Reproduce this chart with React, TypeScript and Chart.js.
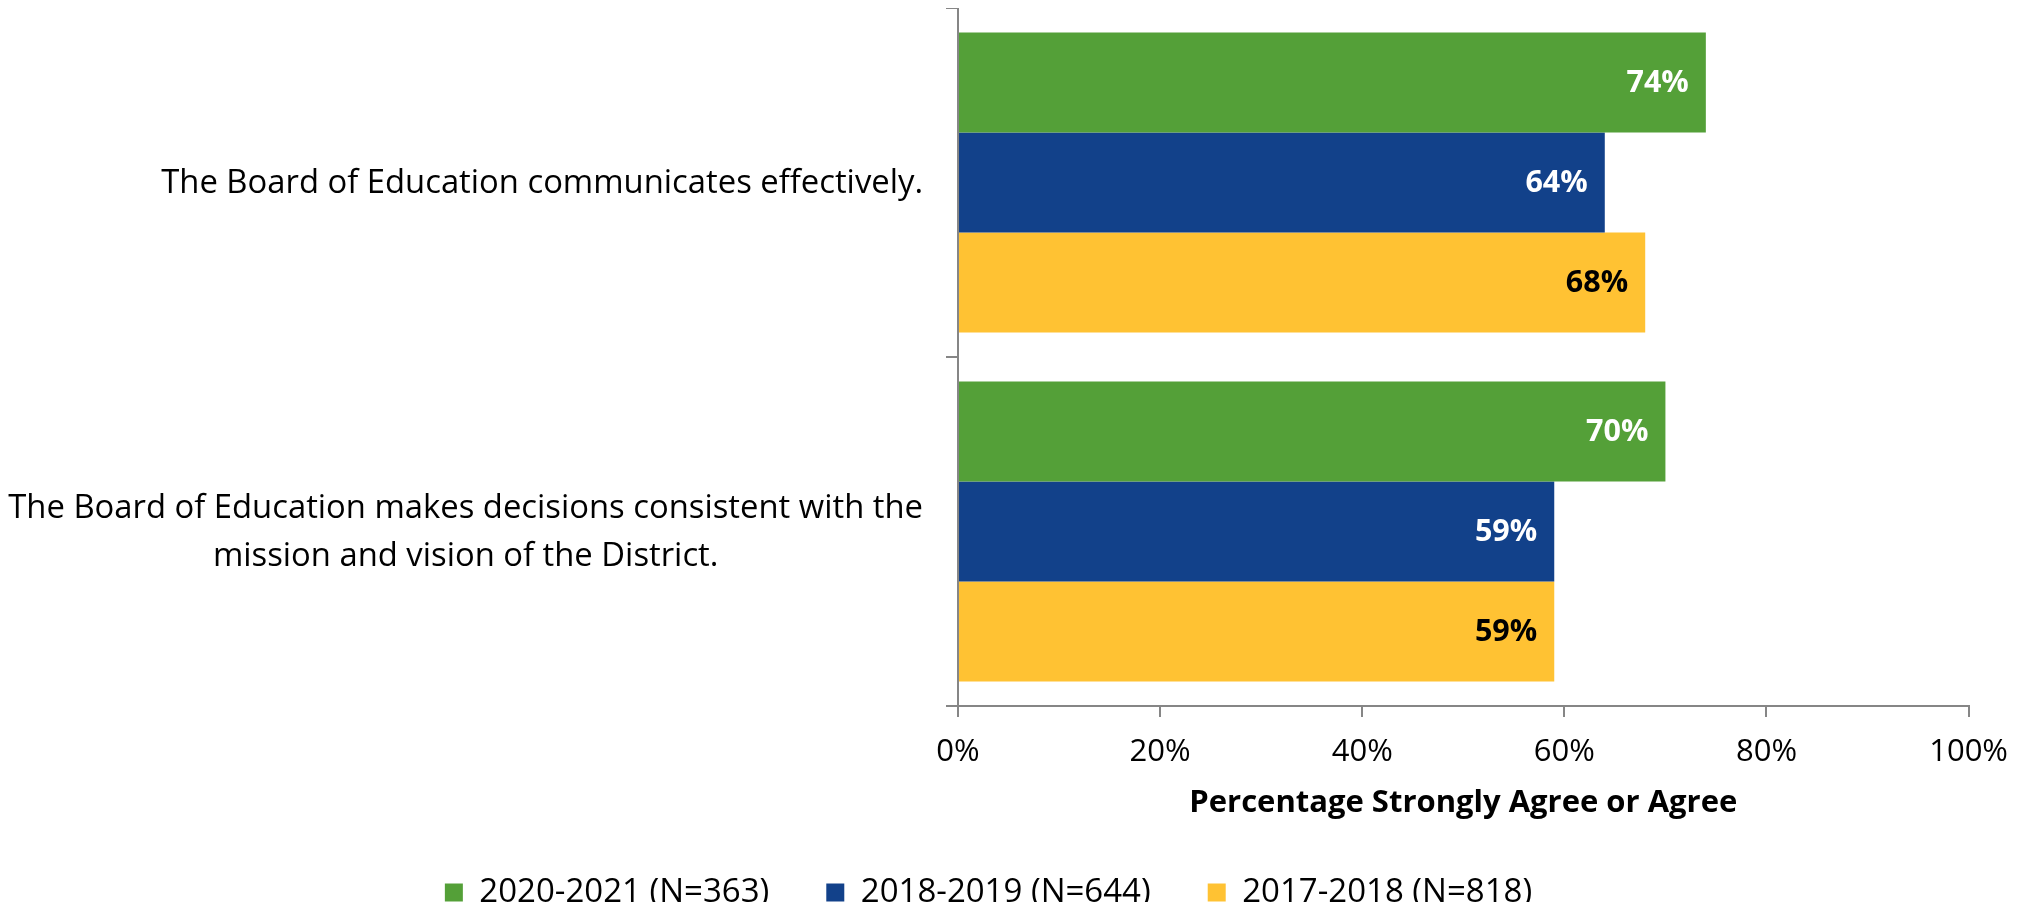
import React, { useEffect, useRef } from "react";
import { Chart, registerables } from "chart.js";

Chart.register(...registerables);

const categories: string[][] = [
  ["The Board of Education communicates effectively."],
  ["The Board of Education makes decisions consistent with the", "mission and vision of the District."],
];
const seriesNames = ["2020-2021 (N=363)", "2018-2019 (N=644)", "2017-2018 (N=818)"];
const values2020 = [74, 70];
const values2018 = [64, 59];
const values2017 = [68, 59];
const seriesColors = ["#54A038", "#12418A", "#FFC233"];
const labelColors = ["#FFFFFF", "#FFFFFF", "#000000"];
const xTicks = [0, 20, 40, 60, 80, 100];
const xTitle = "Percentage Strongly Agree or Agree";

const FONT = "'Open Sans', 'Noto Sans', sans-serif";
const AXIS = "#868686";
const CAT_SIZE = 32.8;
const CAT_LINE = 48;
const CANVAS_W = 2017;
const CANVAS_H = 902;

const dataLabelPlugin = {
  id: "barValueLabels",
  afterDatasetsDraw(chart: any) {
    const ctx = chart.ctx;
    ctx.save();
    ctx.font = `bold 30.5px ${FONT}`;
    ctx.textAlign = "right";
    ctx.textBaseline = "middle";
    chart.data.datasets.forEach((ds: any, di: number) => {
      const meta = chart.getDatasetMeta(di);
      meta.data.forEach((el: any, i: number) => {
        ctx.fillStyle = labelColors[di];
        ctx.fillText(`${ds.data[i]}%`, el.x - 17, el.y + 1);
      });
    });
    ctx.restore();
  },
};

// Category labels: block right-aligned to the axis, lines centred within the block
const categoryLabelPlugin = {
  id: "categoryLabels",
  afterDraw(chart: any) {
    const ctx = chart.ctx;
    const ys = chart.scales.y;
    const rightEdge = ys.right - 12 - 23;
    ctx.save();
    ctx.font = `${CAT_SIZE}px ${FONT}`;
    ctx.fillStyle = "#000";
    ctx.textAlign = "center";
    ctx.textBaseline = "middle";
    (chart.data.labels as string[][]).forEach((lines, i) => {
      const yc = ys.getPixelForTick(i) + 1;
      const widest = Math.max(...lines.map((l) => ctx.measureText(l).width));
      const cx = rightEdge - widest / 2;
      lines.forEach((line, j) => {
        ctx.fillText(line, cx, yc + (j - (lines.length - 1) / 2) * CAT_LINE);
      });
    });
    ctx.restore();
  },
};

export default function App() {
  const ref = useRef<HTMLCanvasElement | null>(null);
  useEffect(() => {
    if (!ref.current) return;
    document.body.style.overflow = "hidden";
    const chart = new Chart(ref.current, {
      type: "bar",
      data: {
        labels: categories,
        datasets: [values2020, values2018, values2017].map((d, i) => ({
          label: seriesNames[i],
          data: d,
          backgroundColor: seriesColors[i],
          borderWidth: 0,
          barPercentage: 1,
          categoryPercentage: 0.86,
        })),
      },
      options: {
        indexAxis: "y",
        responsive: false,
        animation: false,
        maintainAspectRatio: false,
        layout: { padding: { top: 0, right: 56, left: 0, bottom: 0 } },
        plugins: {
          tooltip: { enabled: false },
          legend: {
            position: "bottom",
            maxHeight: 91,
            labels: {
              boxWidth: 18,
              boxHeight: 18,
              padding: 57,
              color: "#000",
              font: { family: FONT, size: 33 },
            },
          },
        },
        scales: {
          x: {
            min: 0,
            max: 100,
            afterBuildTicks(scale: any) {
              scale.ticks = xTicks.map((v) => ({ value: v }));
            },
            afterFit(scale: any) {
              scale.height = scale.chart.height - 698 - scale.chart.legend.height;
            },
            grid: { drawOnChartArea: false, drawTicks: true, tickLength: 11, color: AXIS, lineWidth: 2 },
            border: { color: AXIS, width: 2 },
            ticks: {
              color: "#000",
              font: { family: FONT, size: 31 },
              padding: 17,
              maxRotation: 0,
              callback: (v: any) => `${v}%`,
            },
            title: {
              display: true,
              text: xTitle,
              color: "#000",
              font: { family: FONT, size: 31, weight: "bold", lineHeight: 1 },
              padding: { top: 0, bottom: 0 },
            },
          },
          y: {
            afterFit(scale: any) {
              scale.width = 950;
              scale.paddingTop = 0;
              scale.paddingBottom = 0;
            },
            grid: { offset: true, drawOnChartArea: false, tickLength: 12, color: AXIS, lineWidth: 2 },
            border: { color: AXIS, width: 2 },
            ticks: { display: false },
          },
        },
      },
      plugins: [dataLabelPlugin, categoryLabelPlugin],
    } as any);
    return () => chart.destroy();
  }, []);
  return (
    <div style={{ width: CANVAS_W, height: CANVAS_H, overflow: "hidden", marginBottom: -8 }}>
      <canvas ref={ref} width={CANVAS_W} height={CANVAS_H} style={{ display: "block" }} />
    </div>
  );
}
